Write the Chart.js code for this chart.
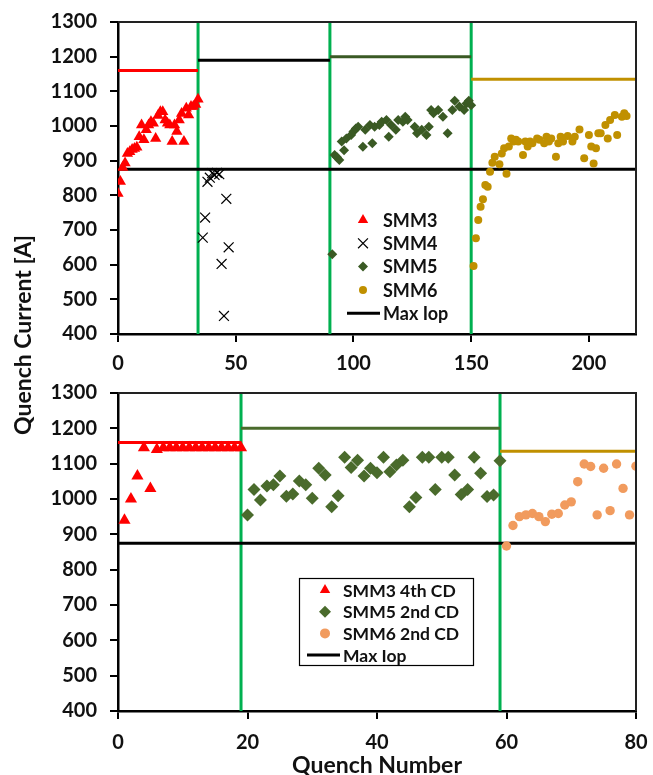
<!DOCTYPE html>
<html>
<head>
<meta charset="utf-8">
<script src="https://cdn.jsdelivr.net/npm/chart.js@4.4.1/dist/chart.umd.min.js"></script>
<style>
  body{margin:0;background:#fff;}
  #wrap{position:relative;width:653px;height:775px;overflow:hidden;}
  canvas{position:absolute;left:0;}
  #cTop{top:0;}
  #cBot{top:365px;}
  #ytitle{position:absolute;left:-128px;top:321px;width:300px;text-align:center;
    font:bold 23px Lato, sans-serif;color:#111;transform:rotate(-90deg);line-height:28px;}
</style>
</head>
<body>
<div id="wrap">
  <canvas id="cTop" width="653" height="385"></canvas>
  <canvas id="cBot" width="653" height="414"></canvas>
  <div id="ytitle">Quench Current [A]</div>
</div>
<script>
(function(){
'use strict';

// ---- shared axis values ----
const yMin = 400, yMax = 1300;
const yTicks = [400, 500, 600, 700, 800, 900, 1000, 1100, 1200, 1300];
const maxIop = 875;

// ---- top panel (first cool-downs) ----
const smm3X = [0,1,2,3,4,5,6,7,8,9,10,11,12,13,14,15,16,17,18,19,20,21,22,23,24,25,26,27,28,29,30,31,32,33,34];
const smm3Y = [805,840,880,893,921,926,932,935,939,969,1003,960,989,1003,1012,1008,964,1030,1041,1041,1017,1008,1003,955,1003,984,1017,1036,955,1051,1032,1056,1056,1062,1077];

const smm4X = [36,37,38,39,40,41,42,43,44,45,46,47];
const smm4Y = [678,736,839,851,864,859,865,861,602,452,790,650];

const smm5X = [91,92,93,94,95,96,97,99,100,101,102,104,105,107,108,109,111,112,114,115,116,118,119,121,122,123,126,127,129,131,132,133,134,136,138,140,142,143,145,147,148,149,150];
const smm5Y = [630,916,910,902,955,930,964,974,984,993,998,940,989,1003,950,998,1003,1012,1017,969,1003,989,1017,1012,1027,1017,998,979,989,974,998,1046,1037,1046,1027,979,1046,1073,1056,1046,1065,1073,1060];

const smm6X = [151,152,153,154,155,156,157,158,159,160,162,163,164,165,166,167,168,169,170,172,173,174,175,176,178,179,181,182,183,184,186,187,188,189,191,193,194,196,198,200,201,202,203,204,205,207,208,209,211,212,214,215,216];
const smm6Y = [596,676,729,767,789,830,825,868,894,911,890,921,936,862,941,964,955,960,955,916,955,941,955,950,964,960,950,969,955,964,911,950,969,955,971,955,969,990,907,974,941,892,936,979,979,1003,964,1017,1032,974,1027,1037,1029];

const topXMax = 220;
const topXTicks = [0, 50, 100, 150, 200];
const topDividers = [34, 90, 150];
const topLimitFrom = [0, 34, 90, 150];
const topLimitTo   = [34, 90, 150, 220];
const topLimitI    = [1160, 1190, 1200, 1135];

// ---- bottom panel (later cool-downs) ----
const cd3X = [1,2,3,4,5,6,7,8,9,10,11,12,13,14,15,16,17,18,19];
const cd3Y = [940,1000,1065,1145,1030,1140,1145,1145,1145,1145,1145,1145,1145,1145,1145,1145,1145,1145,1145];

const cd5X = [20,21,22,23,24,25,26,27,28,29,30,31,32,33,34,35,36,37,38,39,40,41,42,43,44,45,46,47,48,49,50,51,52,53,54,55,56,57,58,59];
const cd5Y = [955,1027,997,1037,1040,1065,1008,1014,1051,1040,1002,1087,1068,978,1009,1118,1089,1110,1065,1087,1074,1118,1077,1096,1110,978,1004,1118,1118,1027,1118,1118,1068,1013,1027,1118,1073,1007,1011,1108];

const cd6X = [60,61,62,63,64,65,66,67,68,69,70,71,72,73,74,75,76,77,78,79,80];
const cd6Y = [867,925,950,955,959,950,936,957,959,983,992,1049,1099,1092,955,1087,967,1099,1030,955,1093];

const botXMax = 80;
const botXTicks = [0, 20, 40, 60, 80];
const botDividers = [19, 59];
const botLimitFrom = [0, 19, 59];
const botLimitTo   = [19, 59, 80];
const botLimitI    = [1160, 1200, 1135];

// ---- styles ----
const RED = '#FF0000', DKGREEN = '#3A5A24', GREEN2 = '#4A6B2C', GOLD = '#C09000', ORANGE = '#F19B5E', DIV = '#00B050';
const topLimitColor = [RED, '#000000', DKGREEN, GOLD];
const botLimitColor = [RED, GREEN2, GOLD];
const FONT = 'Lato, sans-serif';

const pts = (xs, ys) => xs.map((x, i) => ({x: x, y: ys[i]}));

function scatterSet(label, xs, ys, style, color, r){
  return { label: label, data: pts(xs, ys), pointStyle: style, pointRadius: r, pointHoverRadius: r,
    backgroundColor: color, borderColor: color, borderWidth: style === 'crossRot' ? 1.2 : 0,
    showLine: false, order: 0 };
}
function segSet(x0, x1, y0, y1, color, w){
  return { label: '', data: [{x: x0, y: y0}, {x: x1, y: y1}], showLine: true, pointRadius: 0,
    borderColor: color, borderWidth: w, order: 5 };
}
function frameLines(dividers, from, to, level, colors, xMax){
  const out = [];
  out.push(segSet(0, xMax, maxIop, maxIop, '#000000', 3));
  from.forEach((f, i) => out.push(segSet(f, to[i], level[i], level[i], colors[i], 3)));
  dividers.forEach(d => out.push(segSet(d, d, yMin, yMax, DIV, 3)));
  return out;
}

const framePlugin = {
  id: 'framePlugin',
  afterDatasetsDraw(chart){
    const a = chart.chartArea, ctx = chart.ctx;
    ctx.save();
    ctx.strokeStyle = '#222'; ctx.lineWidth = 2;
    ctx.beginPath();
    ctx.moveTo(a.left, a.top); ctx.lineTo(a.right, a.top); ctx.lineTo(a.right, a.bottom);
    ctx.stroke();
    ctx.restore();
  }
};

const boxLegend = {
  id: 'boxLegend',
  afterDraw(chart, args, o){
    if(!o || !o.items) return;
    const ctx = chart.ctx;
    ctx.save();
    if(o.border){
      ctx.strokeStyle = '#000'; ctx.lineWidth = 1.2;
      ctx.strokeRect(o.border[0] + 0.5, o.border[1] + 0.5, o.border[2], o.border[3]);
    }
    ctx.font = 'bold ' + o.fontSize + 'px ' + FONT;
    ctx.textBaseline = 'middle';
    ctx.textAlign = 'left';
    o.items.forEach((it, i) => {
      const y = o.y + i * o.rowH;
      if(it.line){
        ctx.strokeStyle = it.color; ctx.lineWidth = 3;
        ctx.beginPath(); ctx.moveTo(o.lineX[0], y); ctx.lineTo(o.lineX[1], y); ctx.stroke();
      } else {
        ctx.fillStyle = it.color; ctx.strokeStyle = it.color;
        ctx.lineWidth = it.style === 'crossRot' ? 1.2 : 1;
        Chart.helpers.drawPoint(ctx, {pointStyle: it.style, radius: it.r, rotation: 0,
          borderWidth: it.style === 'crossRot' ? 1.2 : 0}, o.markX, y);
      }
      ctx.fillStyle = '#111';
      ctx.fillText(it.label, o.textX, y + 1);
    });
    ctx.restore();
  }
};

function panel(canvasId, datasets, xMax, xTicks, xTitle, legend, padTop, xHeight, tickPad){
  const ctx = document.getElementById(canvasId).getContext('2d');
  return new Chart(ctx, {
    type: 'scatter',
    data: { datasets: datasets },
    plugins: [framePlugin, boxLegend],
    options: {
      responsive: false, animation: false, devicePixelRatio: 1,
      layout: { padding: { top: padTop, right: 17, left: 0, bottom: 0 } },
      plugins: { legend: { display: false }, tooltip: { enabled: false }, boxLegend: legend },
      scales: {
        x: {
          type: 'linear', min: 0, max: xMax,
          ticks: { color: '#111', padding: tickPad, maxRotation: 0, autoSkip: false,
                   callback: v => String(v),
                   font: { family: FONT, weight: 'bold', size: 20 } },
          afterBuildTicks: s => { s.ticks = xTicks.map(v => ({value: v})); },
          afterFit: s => { s.height = xHeight; s.paddingLeft = 0; s.paddingRight = 0; },
          grid: { drawOnChartArea: false, drawTicks: true, tickLength: 8, color: '#000', lineWidth: 2 },
          border: { display: true, color: '#000', width: 2.5 },
          title: { display: !!xTitle, text: xTitle || '', color: '#111', padding: { top: 0, bottom: 0 },
                   font: { family: FONT, weight: 'bold', size: 23 } }
        },
        y: {
          type: 'linear', min: yMin, max: yMax,
          ticks: { color: '#111', padding: 13, autoSkip: false,
                   callback: v => String(v),
                   font: { family: FONT, weight: 'bold', size: 20 } },
          afterBuildTicks: s => { s.ticks = yTicks.map(v => ({value: v})); },
          afterFit: s => { s.width = 118; s.paddingTop = 0; s.paddingBottom = 0; },
          grid: { drawOnChartArea: false, drawTicks: true, tickLength: 8, color: '#000', lineWidth: 2 },
          border: { display: true, color: '#000', width: 2.5 }
        }
      }
    }
  });
}

// top panel
const topSets = [
  scatterSet('SMM3', smm3X, smm3Y, 'triangle', RED, 6.5),
  scatterSet('SMM4', smm4X, smm4Y, 'crossRot', '#000000', 7),
  scatterSet('SMM5', smm5X, smm5Y, 'rectRot', DKGREEN, 5),
  scatterSet('SMM6', smm6X, smm6Y, 'circle', GOLD, 4)
].concat(frameLines(topDividers, topLimitFrom, topLimitTo, topLimitI, topLimitColor, topXMax));

panel('cTop', topSets, topXMax, topXTicks, null, {
  fontSize: 18, markX: 363, textX: 383, y: 220, rowH: 23.3, lineX: [347, 380],
  items: [
    {label: 'SMM3', style: 'triangle', color: RED, r: 6},
    {label: 'SMM4', style: 'crossRot', color: '#000', r: 7},
    {label: 'SMM5', style: 'rectRot', color: DKGREEN, r: 5},
    {label: 'SMM6', style: 'circle', color: GOLD, r: 4},
    {label: 'Max Iop', line: true, color: '#000'}
  ]
}, 22, 51, 10);

// bottom panel
const botSets = [
  scatterSet('SMM3 4th CD', cd3X, cd3Y, 'triangle', RED, 7),
  scatterSet('SMM5 2nd CD', cd5X, cd5Y, 'rectRot', GREEN2, 6.5),
  scatterSet('SMM6 2nd CD', cd6X, cd6Y, 'circle', ORANGE, 4.7)
].concat(frameLines(botDividers, botLimitFrom, botLimitTo, botLimitI, botLimitColor, botXMax));

panel('cBot', botSets, botXMax, botXTicks, 'Quench Number', {
  fontSize: 17.5, markX: 325, textX: 343, y: 225, rowH: 21.7, lineX: [307, 340],
  border: [299, 213, 174, 87],
  items: [
    {label: 'SMM3 4th CD', style: 'triangle', color: RED, r: 6},
    {label: 'SMM5 2nd CD', style: 'rectRot', color: GREEN2, r: 6},
    {label: 'SMM6 2nd CD', style: 'circle', color: ORANGE, r: 5},
    {label: 'Max Iop', line: true, color: '#000'}
  ]
}, 28, 68, 12);

})();
</script>
</body>
</html>
